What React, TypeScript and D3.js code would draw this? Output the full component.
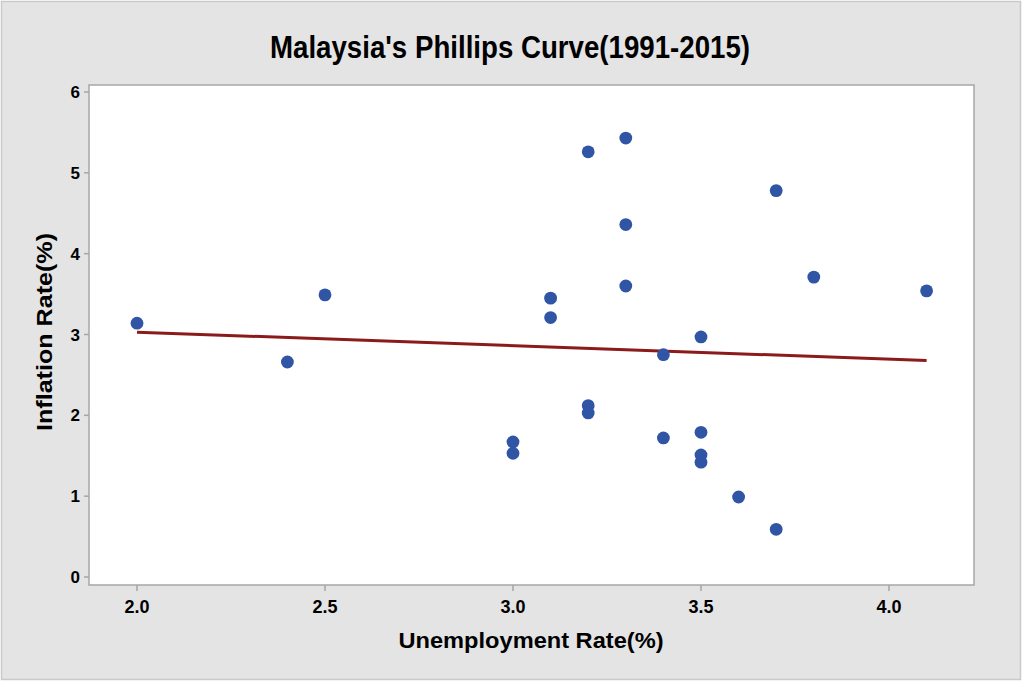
import React from "react";
import * as d3 from "d3";

const unemployment = [2.0, 2.4, 2.5, 3.0, 3.0, 3.1, 3.1, 3.2, 3.2, 3.2, 3.3, 3.3, 3.3, 3.4, 3.4, 3.5, 3.5, 3.5, 3.5, 3.6, 3.7, 3.7, 3.8, 4.1];
const inflation = [3.14, 2.66, 3.49, 1.67, 1.53, 3.45, 3.21, 5.26, 2.12, 2.03, 5.43, 4.36, 3.6, 2.75, 1.72, 2.97, 1.79, 1.51, 1.42, 0.99, 4.78, 0.59, 3.71, 3.54];
const xTicks = [2.0, 2.5, 3.0, 3.5, 4.0];
const yTicks = [0, 1, 2, 3, 4, 5, 6];
const fitIntercept = 3.363;
const fitSlope = -0.167;
const fitRange = [2.0, 4.1];

const W = 1024;
const H = 683;
const plot = { left: 89, right: 974, top: 85, bottom: 585 };

export default function App() {
  const x = d3.scaleLinear().domain([2.0, 4.0]).range([137, 889]);
  const y = d3.scaleLinear().domain([0, 6]).range([577, 92]);
  const font = "'Liberation Sans', Arial, Helvetica, sans-serif";
  const line = d3
    .line<number>()
    .x((d) => x(d))
    .y((d) => y(fitIntercept + fitSlope * d));

  return (
    <svg
      width={W}
      height={H}
      style={{ position: "absolute", left: 0, top: 0 }}
      fontFamily={font}
    >
      <rect x={0} y={0} width={W} height={H} fill="#ffffff" />
      <rect x={1.5} y={1.5} width={1019} height={678} fill="#e4e4e4" stroke="#c9c9c9" strokeWidth={1.5} />
      <rect
        x={plot.left}
        y={plot.top}
        width={plot.right - plot.left}
        height={plot.bottom - plot.top}
        fill="#ffffff"
        stroke="#a6a6a6"
        strokeWidth={1.5}
      />
      {yTicks.map((t) => (
        <g key={"y" + t}>
          <line x1={plot.left - 5} x2={plot.left} y1={y(t)} y2={y(t)} stroke="#a6a6a6" strokeWidth={1.5} />
          <text x={80} y={y(t)} dy="0.36em" textAnchor="end" fontSize={17} fontWeight="bold" fill="#000">
            {t}
          </text>
        </g>
      ))}
      {xTicks.map((t) => (
        <g key={"x" + t}>
          <line x1={x(t)} x2={x(t)} y1={plot.bottom} y2={plot.bottom + 6} stroke="#a6a6a6" strokeWidth={1.5} />
          <text x={x(t)} y={613} textAnchor="middle" fontSize={18} fontWeight="bold" fill="#000">
            {t.toFixed(1)}
          </text>
        </g>
      ))}
      <path d={line(fitRange) || ""} fill="none" stroke="#8b1a1a" strokeWidth={3} />
      {unemployment.map((u, i) => (
        <circle key={i} cx={x(u)} cy={y(inflation[i])} r={6.4} fill="#2f55a4" />
      ))}
      <text
        x={510}
        y={58}
        textAnchor="middle"
        fontSize={31}
        fontWeight="bold"
        fill="#000"
        textLength={480}
        lengthAdjust="spacingAndGlyphs"
      >
        Malaysia's Phillips Curve(1991-2015)
      </text>
      <text
        x={531}
        y={648}
        textAnchor="middle"
        fontSize={22}
        fontWeight="bold"
        fill="#000"
        textLength={265}
        lengthAdjust="spacingAndGlyphs"
      >
        Unemployment Rate(%)
      </text>
      <text
        transform={`translate(52, 332) rotate(-90)`}
        textAnchor="middle"
        fontSize={22}
        fontWeight="bold"
        fill="#000"
        textLength={198}
        lengthAdjust="spacingAndGlyphs"
      >
        Inflation Rate(%)
      </text>
    </svg>
  );
}
